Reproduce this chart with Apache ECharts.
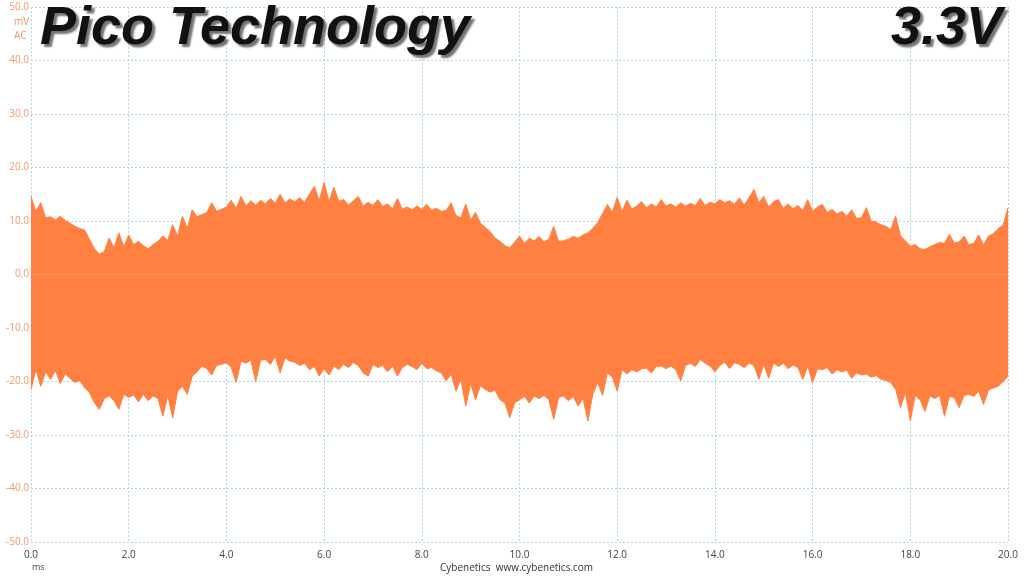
<!DOCTYPE html>
<html>
<head>
<meta charset="utf-8">
<script src="https://cdn.jsdelivr.net/npm/echarts@6/dist/echarts.min.js"></script>
<style>
    html, body { margin: 0; padding: 0; background: #fff; }
    #chart { width: 1024px; height: 576px; }
</style>
</head>
<body>
<div id="chart"></div>
<script>
// time axis in ms, one reading every 0.1 ms
var times = [];
for (var i = 0; i <= 200; i++) times.push(+(i / 10).toFixed(1));

// upper edge of the ripple band (mV)
var upper = [
    14.6, 11.8, 13.4, 10.6, 10.8, 10.2, 10.9, 10.1, 9.6, 9.0,
    8.6, 8.3, 6.5, 4.8, 3.8, 4.3, 6.8, 5.0, 7.8, 5.2,
    7.4, 5.6, 6.2, 5.4, 4.8, 5.6, 6.2, 7.2, 6.4, 9.3,
    7.2, 10.9, 8.6, 12.1, 10.8, 11.2, 11.6, 13.4, 11.8, 12.2,
    12.6, 13.9, 12.4, 14.6, 12.8, 13.8, 13.0, 13.9, 13.2, 14.2,
    13.3, 15.0, 13.4, 14.1, 13.6, 14.4, 13.5, 15.0, 16.5, 13.8,
    17.2, 13.6, 16.3, 13.7, 14.0, 13.0, 13.8, 14.6, 12.8, 13.5,
    12.9, 14.0, 12.7, 13.2, 12.3, 14.2, 12.2, 12.6, 12.1, 12.8,
    12.2, 13.1, 12.0, 12.4, 11.8, 12.0, 13.4, 11.0, 10.6, 13.2,
    10.2, 11.6, 9.6, 8.8, 8.0, 6.8, 6.2, 5.4, 5.0, 6.0,
    7.2, 5.8, 6.8, 6.3, 7.1, 6.1, 6.6, 9.0, 6.2, 6.3,
    6.6, 7.1, 6.8, 7.4, 7.8, 8.6, 9.7, 11.4, 13.1, 11.6,
    14.4, 11.8, 13.9, 12.2, 12.8, 13.6, 12.5, 13.2, 12.6, 14.0,
    12.8, 13.2, 12.6, 13.4, 12.8, 13.3, 12.9, 14.2, 12.9, 13.5,
    13.2, 14.0, 13.4, 13.8, 13.1, 14.3, 13.0, 14.4, 15.9, 13.4,
    14.6, 12.6, 13.6, 14.0, 12.4, 13.2, 12.3, 12.9, 12.0, 14.0,
    11.8, 12.6, 13.1, 11.6, 12.2, 11.3, 11.8, 10.9, 12.1, 10.5,
    10.6, 12.5, 10.0, 9.8, 9.3, 9.0, 8.4, 10.9, 7.2, 6.3,
    5.3, 5.6, 4.8, 4.7, 5.2, 5.6, 6.0, 5.8, 7.5, 5.9,
    6.1, 7.2, 5.6, 5.8, 7.4, 5.5, 7.2, 7.6, 8.6, 9.2,
    12.5
];

// lower edge of the ripple band (mV)
var lower = [
    -21.5, -17.8, -20.9, -18.2, -19.6, -18.0, -20.4, -18.6, -19.4, -20.2,
    -19.8, -21.2, -22.1, -24.0, -25.2, -23.2, -22.7, -23.6, -25.2, -22.4,
    -23.0, -22.5, -23.8, -22.4, -23.6, -22.7, -23.2, -26.5, -22.6, -26.8,
    -21.8, -20.9, -22.4, -19.0, -18.2, -17.1, -17.6, -18.8, -17.0, -16.8,
    -16.5, -17.4, -20.2, -16.2, -16.6, -16.0, -20.0, -16.0, -15.9, -16.8,
    -15.3, -18.4, -15.6, -16.2, -16.4, -17.0, -16.6, -17.8, -17.2, -19.0,
    -17.6, -18.8, -17.1, -17.8, -16.8, -17.4, -16.5, -17.0, -18.4, -19.0,
    -16.8, -17.4, -17.0, -18.2, -17.1, -19.0, -17.4, -16.8, -17.2, -17.8,
    -16.6, -17.6, -17.4, -18.0, -18.4, -19.9, -18.6, -21.8, -19.6, -24.6,
    -20.4, -23.4, -20.8, -21.5, -22.0, -21.6, -23.4, -24.0, -26.8, -24.0,
    -23.4, -22.8, -24.0, -22.7, -23.2, -22.6, -23.4, -27.1, -23.0, -22.7,
    -23.6, -22.8, -24.6, -23.2, -27.4, -22.4, -20.2, -22.6, -18.4, -19.2,
    -21.8, -17.8, -18.6, -17.8, -18.2, -17.6, -17.5, -18.4, -17.2, -17.1,
    -17.6, -17.1, -17.8, -19.9, -17.0, -16.6, -17.2, -15.9, -16.6, -17.1,
    -18.2, -17.0, -16.4, -17.6, -16.5, -16.8, -17.4, -16.6, -17.0, -19.6,
    -16.8, -19.4, -16.5, -17.2, -16.6, -17.6, -16.9, -17.4, -19.6, -17.1,
    -20.2, -17.6, -17.8, -17.4, -18.6, -17.8, -18.2, -17.9, -19.4, -18.4,
    -18.8, -18.6, -19.2, -18.9, -19.6, -19.8, -20.2, -21.5, -24.9, -22.0,
    -27.4, -22.6, -23.4, -25.6, -22.7, -23.2, -22.6, -26.5, -22.8, -23.0,
    -24.9, -22.6, -22.4, -22.8, -21.8, -24.3, -21.6, -21.2, -20.9, -20.0,
    -19.0
];

var title = 'Pico Technology';
var rail = '3.3V';

function pairs(vals) {
    var out = [];
    for (var i = 0; i < vals.length; i++) out.push([times[i], vals[i]]);
    return out;
}

var orange = '#ff8040';
var gridLine = { show: true, lineStyle: { color: '#a9d6e5', type: [2, 2], width: 1 } };

var myChart = echarts.init(document.getElementById('chart'));
var option = {
    animation: false,
    grid: { left: 31, right: 16, top: 7, bottom: 34 },
    xAxis: {
        type: 'value',
        min: 0,
        max: 20,
        interval: 2,
        axisLine: { show: false },
        axisTick: { show: false },
        splitLine: gridLine,
        axisLabel: {
            color: '#444',
            fontSize: 10,
            fontFamily: 'Open Sans',
            margin: 8,
            formatter: function(v) { return v.toFixed(1); }
        }
    },
    yAxis: {
        type: 'value',
        min: -50,
        max: 50,
        interval: 10,
        axisLine: { show: false },
        axisTick: { show: false },
        splitLine: gridLine,
        axisLabel: {
            color: '#f0966a',
            fontSize: 10,
            fontFamily: 'Open Sans',
            margin: 2,
            formatter: function(v) { return v.toFixed(1); }
        }
    },
    graphic: [
        {
            type: 'text', left: 14, top: 17,
            style: { text: 'mV', fill: '#f0966a', font: '10px "Open Sans"' }
        },
        {
            type: 'text', left: 14, top: 31,
            style: { text: 'AC', fill: '#f0966a', font: '10px "Open Sans"' }
        },
        {
            type: 'text', left: 32, top: 563,
            style: { text: 'ms', fill: '#444', font: '9px "Open Sans"' }
        },
        {
            type: 'text', left: 440, top: 563,
            style: { text: 'Cybenetics  www.cybenetics.com', fill: '#333', font: '10px "Open Sans"' }
        },
        {
            type: 'text', left: 40, top: 2, z: 100,
            style: {
                text: title,
                fill: '#111',
                font: 'italic bold 54px "Liberation Sans"',
                textShadowColor: 'rgba(90,90,90,0.85)',
                textShadowOffsetX: 3,
                textShadowOffsetY: 3,
                textShadowBlur: 2
            }
        },
        {
            type: 'text', right: 22, top: 2, z: 100,
            style: {
                text: rail,
                fill: '#111',
                font: 'italic bold 54px "Liberation Sans"',
                textShadowColor: 'rgba(90,90,90,0.85)',
                textShadowOffsetX: 3,
                textShadowOffsetY: 3,
                textShadowBlur: 2
            }
        }
    ],
    series: [
        {
            name: 'upper',
            type: 'line',
            data: pairs(upper),
            showSymbol: false,
            lineStyle: { color: orange, width: 1 },
            areaStyle: { color: orange, opacity: 1 }
        },
        {
            name: 'lower',
            type: 'line',
            data: pairs(lower),
            showSymbol: false,
            lineStyle: { color: orange, width: 1 },
            areaStyle: { color: orange, opacity: 1 }
        }
    ]
};
myChart.setOption(option);
</script>
</body>
</html>
